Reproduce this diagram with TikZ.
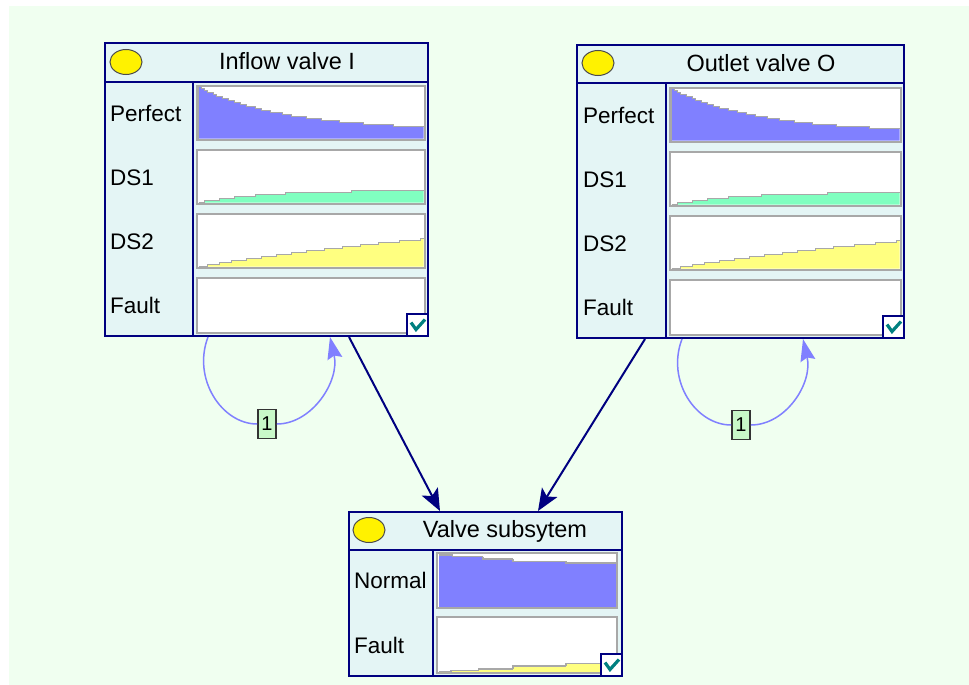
\documentclass[tikz,border=0pt]{standalone}
\usepackage{fontspec}
\setmainfont{Liberation Sans}
\usetikzlibrary{arrows.meta,shapes.geometric,calc}
\definecolor{bgc}{HTML}{F0FFF0}
\definecolor{nodefill}{HTML}{E4F5F5}
\definecolor{navy}{HTML}{000080}
\definecolor{barpurple}{HTML}{8080FF}
\definecolor{bargreen}{HTML}{80FFC0}
\definecolor{baryellow}{HTML}{FFFF80}
\definecolor{bargrey}{HTML}{A8A8A8}
\definecolor{loopblue}{HTML}{8080FF}
\definecolor{lblfill}{HTML}{C8F8C8}
\definecolor{checkteal}{HTML}{008080}
\tikzset{
  valvebox/.style={draw=navy, line width=2pt, fill=nodefill, inner sep=0pt},
  divider/.style={draw=navy, line width=2pt},
  lamp/.style={ellipse, draw=black!70, line width=1pt, fill=yellow, minimum width=32pt, minimum height=25pt, inner sep=0pt},
  title/.style={font=\fontsize{23.5}{26}\selectfont, anchor=base, inner sep=0pt},
  statelabel/.style={font=\fontsize{22.5}{25}\selectfont, anchor=base west, inner sep=0pt},
  barbox/.style={draw=bargrey, line width=2pt, fill=white},
  chartline/.style={draw=bargrey, line width=1.5pt},
  checkbox/.style={draw=navy, line width=2pt, fill=white, minimum width=21pt, minimum height=22pt, inner sep=0pt, anchor=south east},
  checkmark/.style={draw=checkteal, line width=3.2pt},
  causal/.style={draw=navy, line width=2pt, -{Stealth[length=22pt,width=18pt,inset=5pt]}},
  selfloop/.style={draw=loopblue, line width=1.5pt},
  loopend/.style={-{Stealth[length=22pt,width=15pt,inset=3pt]}},
  countlabel/.style={draw=black!80, line width=1.8pt, fill=lblfill, minimum width=18pt, minimum height=29pt, inner sep=0pt, font=\fontsize{20}{22}\selectfont},
}
\newcommand\chartframe[4]{\draw[barbox] (#1,#2) rectangle (#3,#4);}
% x0,y0,x1,y1,colour,N columns,function of \myt ; heights quantised to 2px
\newcommand\stepchart[7]{%
  \gdef\mypts{}%
  \foreach \i in {1,...,#6}{%
    \pgfmathsetmacro\myt{(\i-1)/(#6-1)}%
    \pgfmathsetmacro\yy{(#4)-2*round(((#4)-(#2))/2*(#7))}%
    \pgfmathsetmacro\xa{(#1)+((#3)-(#1))/(#6)*(\i-1)}%
    \pgfmathsetmacro\xb{(#1)+((#3)-(#1))/(#6)*\i}%
    \xdef\mypts{\mypts -- (\xa,\yy) -- (\xb,\yy)}%
  }%
  \fill[#5] (#1,#4) \mypts -- (#3,#4) -- cycle;
  \draw[chartline] (#1,#4) \mypts;
}
% x0,y0,x1,y1,colour,list a/b/value/prev
\newcommand\segchart[6]{%
  \foreach \segA/\segB/\segV/\segP in {#6}{%
    \pgfmathsetmacro\xa{(#1)+((#3)-(#1))*\segA}%
    \pgfmathsetmacro\xb{(#1)+((#3)-(#1))*\segB}%
    \pgfmathsetmacro\yy{(#4)-((#4)-(#2))*\segV}%
    \pgfmathsetmacro\yp{(#4)-((#4)-(#2))*\segP}%
    \fill[#5] (\xa,\yy) rectangle (\xb,#4);
    \draw[chartline] (\xa,\yp) -- (\xa,\yy) -- (\xb,\yy);
  }%
}
\begin{document}
\begin{tikzpicture}[x=1pt,y=-1pt]
\useasboundingbox (0,0) rectangle (969,685);
\fill[bgc] (9,6) rectangle (969,685);

% ---------------- Inflow valve I ----------------
\node[valvebox, minimum width=323pt, minimum height=293pt] (I) at (266.5,189.5) {};
\draw[divider] (105,82) -- (428,82);
\draw[divider] (193,82) -- (193,336);
\node[lamp] (Ilamp) at (126,62) {};
\node[title] (Ititle) at (287,70) {Inflow valve I};
\chartframe{197}{86}{425}{140}
\stepchart{198.5}{87.5}{423.5}{138.5}{barpurple}{75}{0.17+0.83*exp(-2.6*\myt)}
\chartframe{197}{150}{425}{204}
\stepchart{198.5}{151.5}{423.5}{202.5}{bargreen}{75}{0.23*(1-exp(-3.5*\myt))/(1-exp(-3.5))}
\chartframe{197}{214}{425}{268}
\stepchart{198.5}{215.5}{423.5}{266.5}{baryellow}{75}{0.53*(1-exp(-0.6*\myt))/(1-exp(-0.6))}
\chartframe{197}{278}{425}{333}
\node[statelabel] (Iperfect) at (110,121) {Perfect};
\node[statelabel] (Ids1) at (110,185) {DS1};
\node[statelabel] (Ids2) at (110,249) {DS2};
\node[statelabel] (Ifault) at (110,313.5) {Fault};
\node[checkbox] (Icheck) at (I.south east) {};
\draw[checkmark] ([xshift=-6.5pt,yshift=2.5pt]Icheck.center) -- ([xshift=-1.5pt,yshift=-4.5pt]Icheck.center) -- ([xshift=7.5pt,yshift=5.5pt]Icheck.center);

% ---------------- Outlet valve O ----------------
\node[valvebox, minimum width=327pt, minimum height=293pt] (O) at (740.5,191.5) {};
\draw[divider] (577,83) -- (904,83);
\draw[divider] (666,83) -- (666,338);
\node[lamp] (Olamp) at (598,63) {};
\node[title] (Otitle) at (761,72) {Outlet valve O};
\chartframe{670}{88}{901}{142}
\stepchart{671.5}{89.5}{899.5}{140.5}{barpurple}{76}{0.17+0.83*exp(-2.6*\myt)}
\chartframe{670}{152}{901}{206}
\stepchart{671.5}{153.5}{899.5}{204.5}{bargreen}{76}{0.23*(1-exp(-3.5*\myt))/(1-exp(-3.5))}
\chartframe{670}{216}{901}{270}
\stepchart{671.5}{217.5}{899.5}{268.5}{baryellow}{76}{0.53*(1-exp(-0.6*\myt))/(1-exp(-0.6))}
\chartframe{670}{280}{901}{335}
\node[statelabel] (Operfect) at (583,123) {Perfect};
\node[statelabel] (Ods1) at (583,187) {DS1};
\node[statelabel] (Ods2) at (583,251) {DS2};
\node[statelabel] (Ofault) at (583,315.5) {Fault};
\node[checkbox] (Ocheck) at (O.south east) {};
\draw[checkmark] ([xshift=-6.5pt,yshift=2.5pt]Ocheck.center) -- ([xshift=-1.5pt,yshift=-4.5pt]Ocheck.center) -- ([xshift=7.5pt,yshift=5.5pt]Ocheck.center);

% ---------------- Valve subsytem ----------------
\node[valvebox, minimum width=273pt, minimum height=164pt] (V) at (485.5,594) {};
\draw[divider] (349,550) -- (622,550);
\draw[divider] (433,550) -- (433,676);
\node[lamp] (Vlamp) at (369,530) {};
\node[title] (Vtitle) at (505,537) {Valve subsytem};
\chartframe{437}{553}{617}{608}
\segchart{438.5}{554.5}{615.5}{606.5}{barpurple}{0/0.08/0.99/0.99, 0.08/0.25/0.96/0.99, 0.25/0.42/0.91/0.96, 0.42/0.72/0.87/0.91, 0.72/1/0.84/0.87}
\chartframe{437}{617}{617}{673}
\segchart{438.5}{618.5}{615.5}{671.5}{baryellow}{0/0.07/0/0, 0.07/0.23/0.02/0, 0.23/0.42/0.05/0.02, 0.42/0.72/0.10/0.05, 0.72/1/0.15/0.10}
\node[statelabel] (Vnormal) at (354,588.5) {Normal};
\node[statelabel] (Vfault) at (354,653) {Fault};
\node[checkbox] (Vcheck) at (V.south east) {};
\draw[checkmark] ([xshift=-6.5pt,yshift=2.5pt]Vcheck.center) -- ([xshift=-1.5pt,yshift=-4.5pt]Vcheck.center) -- ([xshift=7.5pt,yshift=5.5pt]Vcheck.center);

% ---------------- causal arcs ----------------
\draw[causal] ([xshift=82.5pt]I.south) -- ([xshift=-45.5pt]V.north);
\draw[causal] ([xshift=-95.5pt]O.south) -- ([xshift=52.5pt]V.north);

% ---------------- self loops ----------------
\node[countlabel] (Ic) at (267,424) {1};
\draw[selfloop] ([xshift=-58.5pt]I.south) .. controls +(-16,42) and +(-45,0) .. (Ic);
\draw[selfloop, loopend] (Ic) .. controls +(45,0) and +(10,44) .. ([xshift=63.5pt]I.south);
\node[countlabel] (Oc) at (741,425) {1};
\draw[selfloop] ([xshift=-58.5pt]O.south) .. controls +(-16,42) and +(-45,0) .. (Oc);
\draw[selfloop, loopend] (Oc) .. controls +(45,0) and +(10,44) .. ([xshift=62.5pt]O.south);
\end{tikzpicture}
\end{document}
